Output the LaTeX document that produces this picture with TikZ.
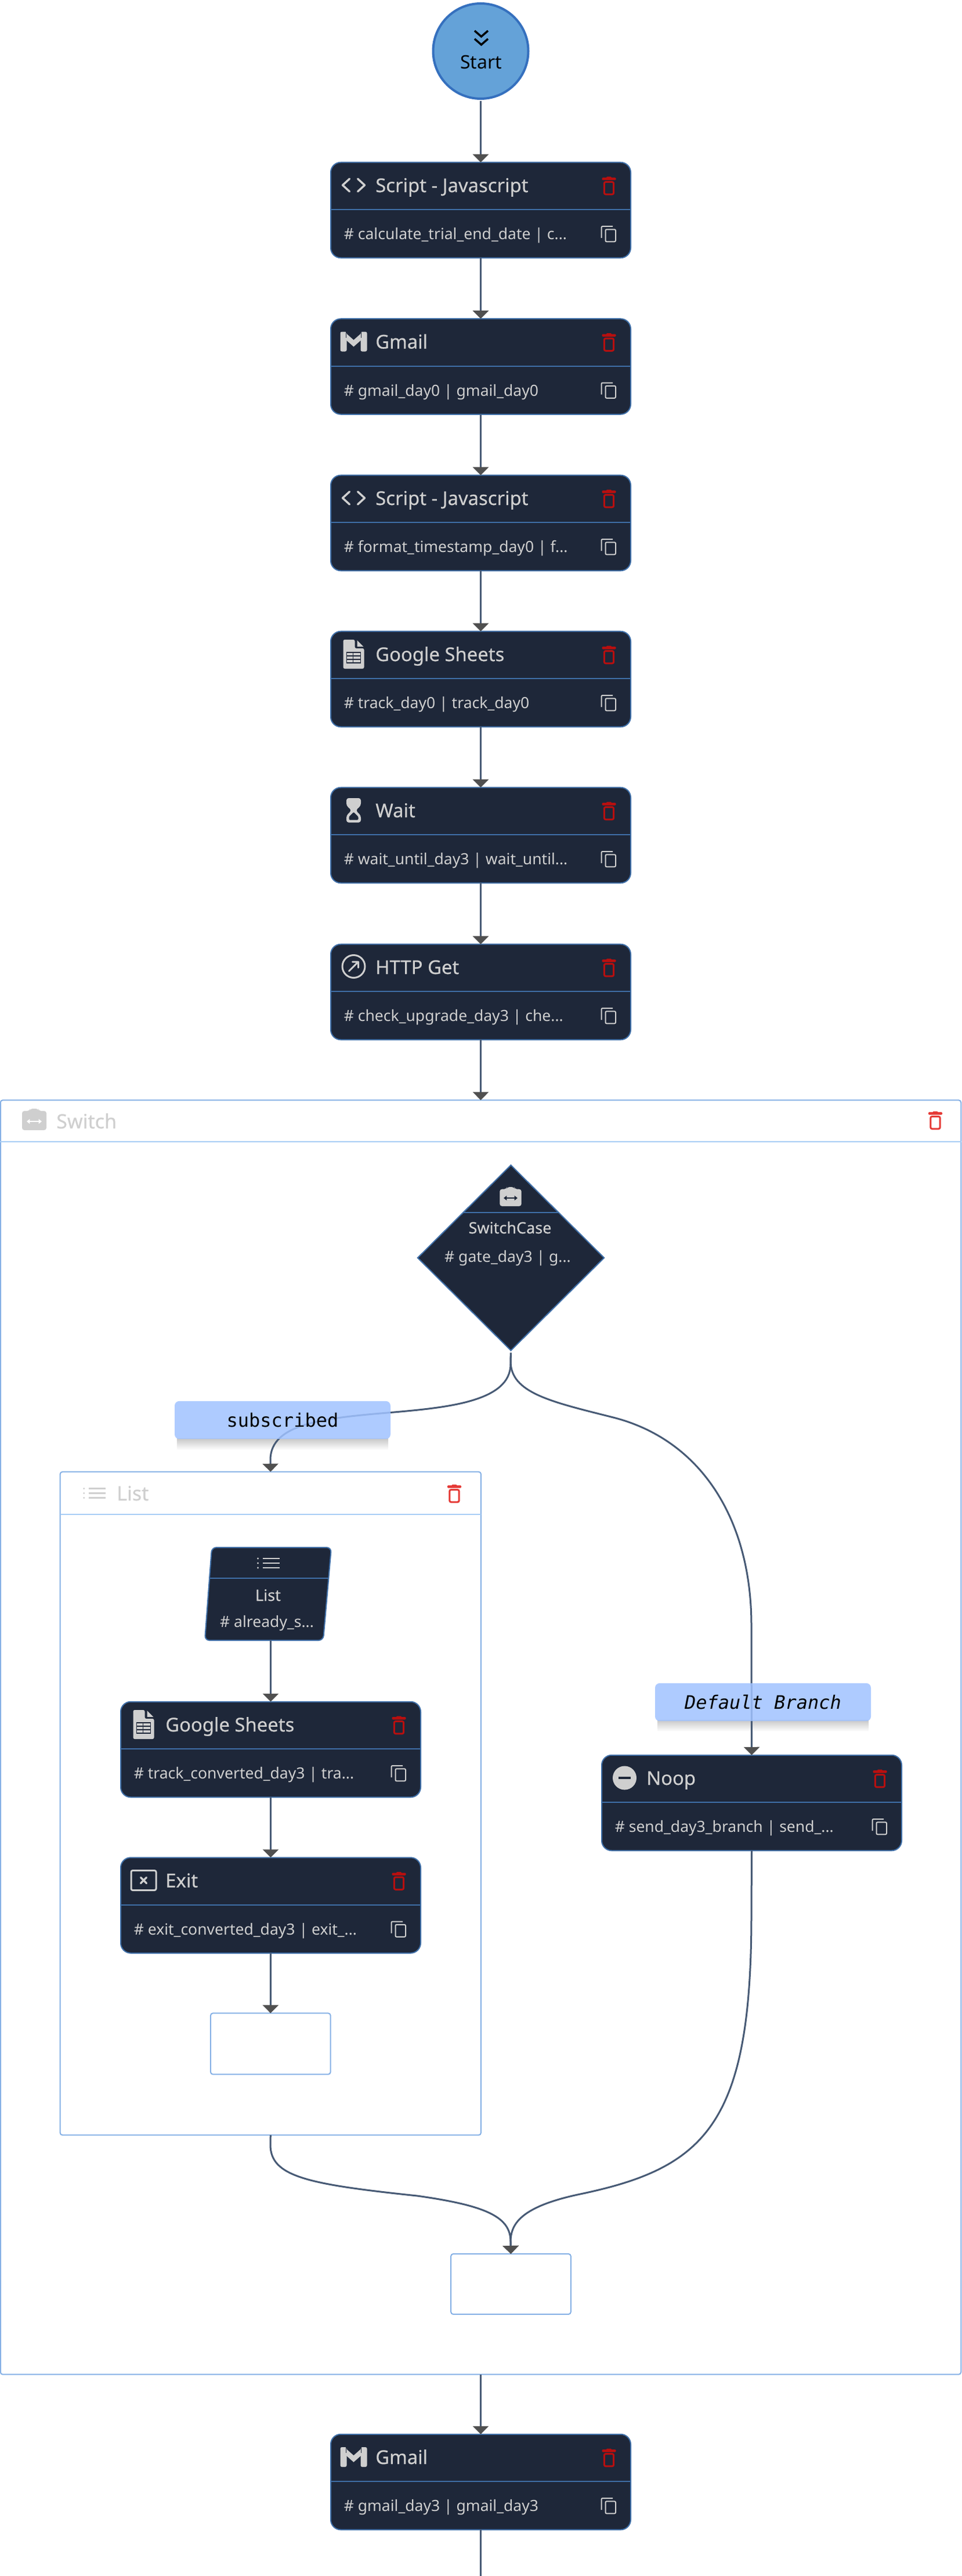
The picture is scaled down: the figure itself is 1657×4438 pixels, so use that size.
\documentclass[tikz,border=0pt]{standalone}
\usepackage{fontspec}
\setmainfont{Noto Sans}
\setmonofont{DejaVu Sans Mono}
\newfontfamily\titlefont[FakeBold=0.4]{Noto Sans}
\usetikzlibrary{arrows.meta,shapes.geometric}

\definecolor{carddark}{HTML}{1E2739}
\definecolor{cardline}{HTML}{3F6FA8}
\definecolor{iconlight}{HTML}{CFCFCF}
\definecolor{trashdark}{HTML}{B80F0F}
\definecolor{trashbright}{HTML}{E53935}
\definecolor{boxline}{HTML}{85B0E5}
\definecolor{boxdiv}{HTML}{A8CDF5}
\definecolor{flowline}{HTML}{475A75}
\definecolor{tipgray}{HTML}{505050}
\definecolor{labelblue}{HTML}{A0C2FF}
\definecolor{startfill}{HTML}{64A2D8}
\definecolor{startline}{HTML}{3570BE}

\tikzset{
  card/.style={draw=cardline,fill=carddark,line width=1.5pt,rounded corners=13pt,minimum width=387.75pt,minimum height=123.4pt,inner sep=0pt,outer sep=0pt},
  carddiv/.style={draw=cardline,line width=1.5pt},
  cardtitle/.style={anchor=base west,inner sep=0pt,text=iconlight,font=\titlefont\fontsize{24.6}{28}\selectfont},
  cardsub/.style={anchor=base west,inner sep=0pt,text=iconlight,font=\fontsize{19.9}{24}\selectfont},
  smalltitle/.style={anchor=base,inner sep=0pt,text=iconlight,font=\titlefont\fontsize{20.25}{24}\selectfont},
  smallsub/.style={anchor=base,inner sep=0pt,text=iconlight,font=\fontsize{19.9}{24}\selectfont},
  frametitle/.style={anchor=base west,inner sep=0pt,text=iconlight,font=\titlefont\fontsize{25.5}{28}\selectfont},
  frame/.style={draw=boxline,line width=1.5pt,rounded corners=3pt,inner sep=0pt,outer sep=0pt},
  framediv/.style={draw=boxdiv,line width=1.5pt},
  flow/.style={draw=flowline,line width=2.25pt,-{Triangle[width=20.25pt,length=10.5pt,color=tipgray]}},
  flowend/.style={draw=flowline,line width=2.25pt},
  edgetag/.style={fill=labelblue,fill opacity=.85,text opacity=1,rounded corners=6pt,minimum width=279pt,minimum height=49pt,inner sep=0pt,font=\ttfamily\fontsize{24}{28}\selectfont},
  iconstroke/.style={draw=iconlight,line width=2.25pt,line cap=round,line join=round},
}

% icons, drawn round (0,0)
\newcommand{\codemark}{%
  \draw [iconstroke,line width=2.6pt] (-7,-11) -- (-19,0) -- (-7,11) (7,-11) -- (19,0) -- (7,11);
}
\newcommand{\gmailmark}{%
  \fill [iconlight,rounded corners=2pt] (-23,-17) rectangle (-12,17) (12,-17) rectangle (23,17);
  \draw [iconlight,line width=6.5pt] (-17,-12) -- (0,3) -- (17,-12);
  \draw [carddark,line width=1pt] (-13,-17) -- (-13,-7) (13,-17) -- (13,-7);
}
\newcommand{\sheetmark}{%
  \fill [iconlight,rounded corners=2pt] (-18,-25) -- (2,-25) -- (2,-10) -- (18,-10) -- (18,25) -- (-18,25) -- cycle;
  \fill [iconlight] (6,-24) -- (17,-13) -- (6,-13) -- cycle;
  \draw [carddark,line width=1.2pt] (-12,-3) rectangle (12,15) (-12,3) -- (12,3) (-12,9) -- (12,9) (-1,-3) -- (-1,15);
}
\newcommand{\waitmark}{%
  \fill [iconlight,rounded corners=3pt] (-12.5,-21) -- (12.5,-21) -- (12.5,-8) -- (3.5,0) -- (12.5,9) -- (12.5,21) -- (-12.5,21) -- (-12.5,9) -- (-3.5,0) -- (-12.5,-8) -- cycle;
  \fill [carddark,rounded corners=1pt] (0,3) -- (8,11) -- (8,16.5) -- (-8,16.5) -- (-8,11) -- cycle;
}
\newcommand{\httpmark}{%
  \draw [iconstroke] (0,-1) circle (19.5);
  \draw [iconstroke] (-8,7) -- (8,-9) (-2,-9) -- (8,-9) -- (8,1);
}
\newcommand{\exitmark}{%
  \draw [iconstroke,rounded corners=2pt] (-21.5,-17) rectangle (21.5,17);
  \draw [iconstroke,line width=2.6pt] (-5,-5) -- (5,5) (-5,5) -- (5,-5);
}
\newcommand{\noopmark}{%
  \fill [iconlight] (0,0) circle (20.5);
  \fill [carddark] (-10.5,-2) rectangle (10.5,2);
}
\newcommand{\casemark}[2]{%
  \begin{scope}[shift={#1},scale=#2]
    \fill [iconlight,rounded corners=3pt] (-21,-15) -- (-8,-15) -- (-7,-19) -- (7,-19) -- (8,-15) -- (21,-15) -- (21,18) -- (-21,18) -- cycle;
  \end{scope}
}
\newcommand{\listmark}[1]{%
  \begin{scope}[shift={#1}]
    \foreach \rowy in {-8,0,8} {
      \fill [iconlight] (-18,\rowy) circle (1.6);
      \draw [iconlight,line width=1.9pt] (-10,\rowy) -- (19,\rowy);
    }
  \end{scope}
}
\newcommand{\trashmark}[2]{%
  \begin{scope}[shift={#1}]
    \draw [#2,line width=2.25pt,rounded corners=2pt] (-8.2,-7.5) rectangle (8.2,13.8);
    \fill [#2,rounded corners=1pt] (-12,-15) rectangle (12,-10.5);
    \fill [#2,rounded corners=1pt] (-4.5,-16.5) rectangle (4.5,-13);
  \end{scope}
}
\newcommand{\copymark}{%
  \draw [iconlight,line width=1.5pt,rounded corners=1.5pt] (473.5,115.3) rectangle (491,136.3);
  \draw [iconlight,line width=1.5pt,rounded corners=1.5pt] (466.5,130) -- (466.5,110) -- (486,110);
}

% card: name, left, top, icon, title, sub text
\newcommand{\cardnode}[6]{%
  \begin{scope}[shift={(#2,#3)}]
    \node (#1) [card] at (258.5,82) {};
    \draw [carddiv] (0,81) -- (517,81);
    \begin{scope}[shift={(39.5,39)}] #4 \end{scope}
    \node (#1title) [cardtitle] at (77,51) {#5};
    \node (#1sub) [cardsub] at (22.5,132.5) {#6};
    \trashmark{(479.5,41)}{trashdark}
    \copymark
  \end{scope}
}

\begin{document}
\begin{tikzpicture}[x=0.75pt,y=0.75pt,yscale=-1,xscale=1]
\useasboundingbox (0,0) rectangle (1657,4438);
\fill [white] (0,0) rectangle (1657,4438);

% outer frame
\node (switchbox) [frame,minimum width=1241.6pt,minimum height=1646.5pt] at (828.5,2993) {};
\draw [framediv] (0,1967) -- (1657,1967);
\casemark{(59,1929)}{1}
\draw [white,line width=1.5pt,{Triangle[length=4pt,width=6pt]}-{Triangle[length=4pt,width=6pt]}] (46,1932) -- (72,1932);
\node (switchtitle) [frametitle] at (97,1944) {Switch};
\trashmark{(1612,1931)}{trashbright}

% inner frame
\node (listbox) [frame,minimum width=544pt,minimum height=857pt] at (466.3,3107) {};
\draw [framediv] (104,2609) -- (829,2609);
\listmark{(162.8,2572.5)}
\node (listtitle) [frametitle] at (201,2585) {List};
\trashmark{(783,2574)}{trashbright}

% Start
\node (start) [circle,draw=startline,fill=startfill,line width=3pt,minimum size=123pt,inner sep=0pt,outer sep=0pt] at (828.5,88) {};
\draw [black,line width=2.6pt] (818,53) -- (829.5,63) -- (841,53) (818,67) -- (829.5,77) -- (841,67);
\node (starttext) [anchor=base,inner sep=0pt,font=\fontsize{24}{28}\selectfont] at (829,118.5) {Start};

% cards
\cardnode{script1}{570}{280}{\codemark}{Script - Javascript}{\# calculate\_trial\_end\_date | c...}
\cardnode{gmail1}{570}{549.5}{\gmailmark}{Gmail}{\# gmail\_day0 | gmail\_day0}
\cardnode{script2}{570}{819}{\codemark}{Script - Javascript}{\# format\_timestamp\_day0 | f...}
\cardnode{sheets1}{570}{1088}{\sheetmark}{Google Sheets}{\# track\_day0 | track\_day0}
\cardnode{wait1}{570}{1357}{\waitmark}{Wait}{\# wait\_until\_day3 | wait\_until...}
\cardnode{http1}{570}{1627}{\httpmark}{HTTP Get}{\# check\_upgrade\_day3 | che...}
\cardnode{sheets2}{208}{2932}{\sheetmark}{Google Sheets}{\# track\_converted\_day3 | tra...}
\cardnode{exit1}{208}{3200.5}{\exitmark}{Exit}{\# exit\_converted\_day3 | exit\_...}
\cardnode{noop1}{1037}{3024}{\noopmark}{Noop}{\# send\_day3\_branch | send\_...}
\cardnode{gmail2}{570}{4194}{\gmailmark}{Gmail}{\# gmail\_day3 | gmail\_day3}

% SwitchCase
\node (gate) [diamond,aspect=1,draw=cardline,fill=carddark,line width=1.5pt,minimum width=241pt,minimum height=239.5pt,inner sep=0pt,outer sep=0pt] at (880.5,2167) {};
\draw [carddiv] (798,2089) -- (963,2089);
\casemark{(880,2062)}{.89}
\draw [carddark,line width=1.5pt,{Triangle[length=4pt,width=6pt]}-{Triangle[length=4pt,width=6pt]}] (868,2064) -- (892,2064);
\node (gatetitle) [smalltitle] at (879,2125) {SwitchCase};
\node (gatesub) [smallsub] at (875,2174) {\# gate\_day3 | g...};

% List step
\draw [draw=cardline,fill=carddark,line width=1.5pt,rounded corners=6pt] (365,2666) -- (571,2666) -- (557,2826) -- (353,2826) -- cycle;
\node (liststep) [minimum width=153pt,minimum height=120pt,inner sep=0pt,outer sep=0pt] at (462,2746) {};
\draw [carddiv] (361,2719) -- (567,2719);
\listmark{(462.5,2693)}
\node (liststeptitle) [smalltitle] at (462,2758) {List};
\node (liststepsub) [smallsub] at (460,2803) {\# already\_s...};

% end boxes
\node (endbox) [frame,minimum width=155pt,minimum height=79pt] at (466.3,3521) {};
\node (joinbox) [frame,minimum width=155pt,minimum height=78pt] at (880.5,3935) {};

% label shadows
\shade [top color=black!22,bottom color=white] (305,2478) rectangle (669,2498);
\shade [top color=black!22,bottom color=white] (1133,2963) rectangle (1497,2983);

% connectors
\coordinate (pageend) at (828.5,4438);
\draw [flow,shorten <=3pt] (start.south) -- (script1.north);
\draw [flow] (script1.south) -- (gmail1.north);
\draw [flow] (gmail1.south) -- (script2.north);
\draw [flow] (script2.south) -- (sheets1.north);
\draw [flow] (sheets1.south) -- (wait1.north);
\draw [flow] (wait1.south) -- (http1.north);
\draw [flow] (http1.south) -- (switchbox.north);
\draw [flow] (switchbox.south) -- (gmail2.north);
\draw [flowend] (gmail2.south) -- (pageend);
\draw [flow] (sheets2.north |- liststep.south) -- (sheets2.north);
\draw [flow] (sheets2.south) -- (exit1.north);
\draw [flow] (exit1.south) -- (endbox.north);

\draw [flow,shorten <=3pt] (gate.south) -- (880,2350) .. controls (880,2415) and (770,2425) .. (673,2433.5) .. controls (560,2443) and (466,2452) .. (466,2515) -- (listbox.north);
\draw [flow,shorten <=3pt] (gate.south) -- (880,2345) .. controls (880,2400) and (950,2415) .. (1057,2442) .. controls (1210,2481) and (1295,2620) .. (1295,2800) -- (noop1.north);
\draw [flow] (listbox.south) -- (466,3695) .. controls (466,3750) and (530,3763) .. (719,3783) .. controls (840,3800) and (880,3820) .. (880,3862) -- (joinbox.north);
\draw [flow] (noop1.south) -- (1295,3300) .. controls (1295,3660) and (1215,3735) .. (1000,3780) .. controls (900,3801) and (880,3830) .. (880,3862) -- (joinbox.north);

% labels
\node (tagsubscribed) [edgetag] at (487,2446.5) {subscribed};
\node (tagdefault) [edgetag] at (1315,2932.5) {\itshape Default Branch};

\end{tikzpicture}
\end{document}
